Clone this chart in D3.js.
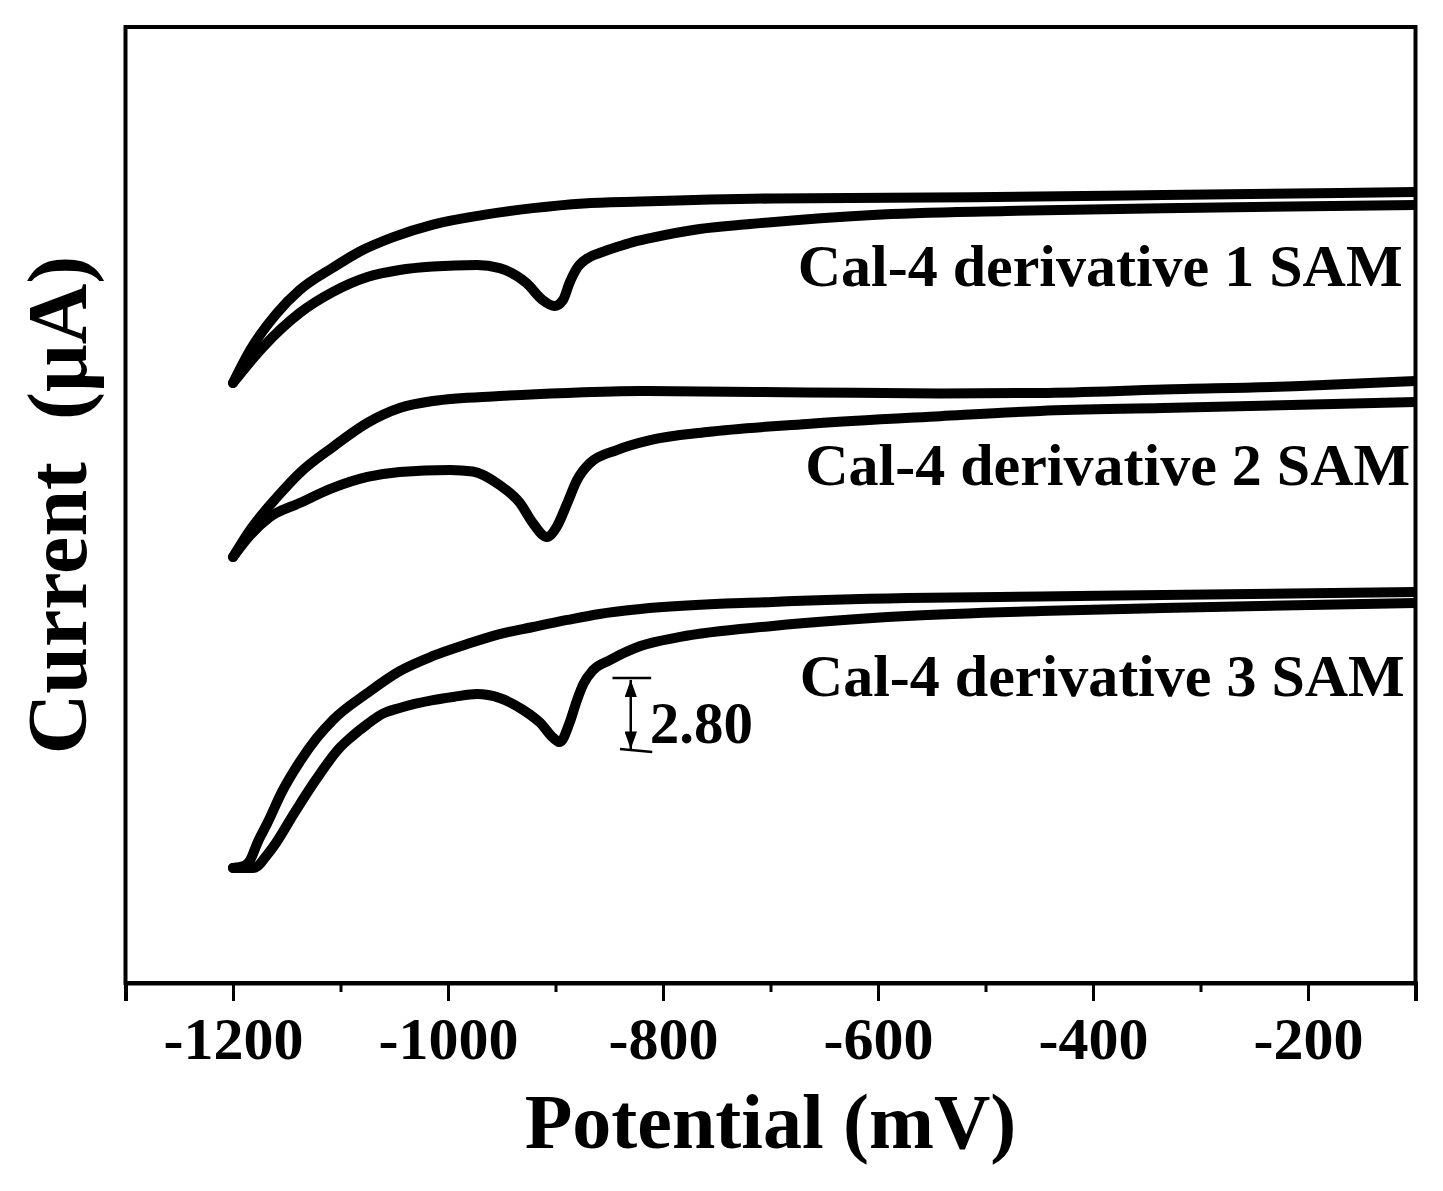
<!DOCTYPE html>
<html>
<head>
<meta charset="utf-8">
<script src="https://cdn.jsdelivr.net/npm/d3@7"></script>
<style>
  html, body { margin: 0; padding: 0; background: #fff; }
  svg { display: block; }
</style>
</head>
<body>
<svg id="chart" width="1443" height="1191"></svg>
<script>
// ---------- data (potential in mV, current in µA, arbitrary offset) ----------
const xMajorTicks = [-1200, -1000, -800, -600, -400, -200];
const xMinorTicks = [-1300, -1100, -900, -700, -500, -300, -100];

const cv1Upper = [[-1200,22.99],[-1184,24.25],[-1159,25.67],[-1138,26.55],[-1107,27.41],[-1082,28.03],[-1051,28.58],[-1014,29.06],[-967,29.43],[-921,29.69],[-874,29.87],[-821,29.94],[-698,30.06],[-512,30.11],[-335,30.19],[-100,30.31]];
const cv1Lower = [[-1200,22.99],[-1172,24.37],[-1138,25.67],[-1107,26.48],[-1075,27.05],[-1045,27.32],[-1014,27.45],[-973,27.51],[-952,27.39],[-927,26.82],[-912,26.17],[-901,25.94],[-893,26.17],[-887,26.82],[-880,27.39],[-868,27.82],[-859,27.97],[-843,28.20],[-828,28.39],[-812,28.54],[-766,28.89],[-719,29.08],[-605,29.43],[-480,29.58],[-335,29.69],[-100,29.81]];

const cv2Upper = [[-1200,16.32],[-1184,17.36],[-1159,18.62],[-1138,19.54],[-1107,20.54],[-1075,21.46],[-1045,22.03],[-1014,22.30],[-952,22.49],[-889,22.61],[-821,22.68],[-666,22.63],[-542,22.59],[-449,22.61],[-335,22.74],[-207,22.87],[-100,23.07]];
const cv2Lower = [[-1200,16.32],[-1184,17.16],[-1166,17.85],[-1138,18.39],[-1107,18.97],[-1075,19.39],[-1045,19.58],[-998,19.66],[-977,19.60],[-952,19.08],[-933,18.39],[-921,17.62],[-908,17.09],[-899,17.47],[-889,18.39],[-880,19.27],[-868,19.92],[-843,20.42],[-812,20.80],[-759,21.11],[-666,21.42],[-542,21.72],[-449,21.92],[-335,22.03],[-100,22.26]];

const cv3Upper = [[-1200,4.41],[-1190,4.48],[-1184,4.71],[-1177,5.40],[-1168,6.13],[-1154,7.36],[-1138,8.47],[-1122,9.39],[-1107,10.08],[-1075,11.11],[-1045,11.95],[-1014,12.53],[-982,12.99],[-952,13.37],[-921,13.64],[-889,13.91],[-859,14.14],[-821,14.33],[-698,14.60],[-573,14.75],[-449,14.81],[-335,14.87],[-100,14.98]];
const cv3Lower = [[-1200,4.41],[-1181,4.41],[-1177,4.48],[-1169,4.87],[-1162,5.25],[-1143,6.51],[-1123,7.78],[-1101,9.00],[-1091,9.39],[-1075,9.92],[-1061,10.31],[-1045,10.54],[-1014,10.84],[-995,10.96],[-973,11.07],[-952,10.92],[-930,10.46],[-914,9.96],[-902,9.39],[-896,9.23],[-887,9.96],[-880,10.84],[-874,11.46],[-865,11.99],[-849,12.38],[-821,12.91],[-784,13.26],[-698,13.68],[-573,14.06],[-449,14.25],[-335,14.37],[-100,14.56]];

const seriesNames = ["Cal-4 derivative 1 SAM", "Cal-4 derivative 2 SAM", "Cal-4 derivative 3 SAM"];
const labelPositions = [[-112, 26.7], [-105, 19.1], [-110, 11.0]]; // [mV, µA] of label end/baseline

// peak current annotation (µA)
const annotTop = 11.69;
const annotDelta = 2.80;
const annotX = -830;
const annotText = "2.80";

// ---------- layout ----------
const margin = { left: 125.5, right: 1415.5, top: 27, bottom: 983 };
const FONT = "'Liberation Serif', 'Times New Roman', Times, serif";

const svg = d3.select("#chart");
const x = d3.scaleLinear().domain([-1300, -100]).range([margin.left, margin.right]);
const y = d3.scaleLinear().domain([0, 36.63]).range([margin.bottom, margin.top]);

const line = d3.line()
  .x(d => x(d[0])).y(d => y(d[1]))
  .curve(d3.curveMonotoneX);

const defs = svg.append("defs");
defs.append("clipPath").attr("id", "plotclip")
  .append("rect")
  .attr("x", margin.left).attr("y", margin.top)
  .attr("width", margin.right - margin.left)
  .attr("height", margin.bottom - margin.top);

const curves = [cv1Upper, cv1Lower, cv2Upper, cv2Lower, cv3Upper, cv3Lower];
const plot = svg.append("g").attr("clip-path", "url(#plotclip)");
plot.selectAll("path.cv").data(curves).enter().append("path")
  .attr("class", "cv")
  .attr("d", line)
  .attr("fill", "none")
  .attr("stroke", "#000")
  .attr("stroke-width", 10)
  .attr("stroke-linecap", "round")
  .attr("stroke-linejoin", "round");

// frame
svg.append("rect")
  .attr("x", margin.left).attr("y", margin.top)
  .attr("width", margin.right - margin.left)
  .attr("height", margin.bottom - margin.top)
  .attr("fill", "none").attr("stroke", "#000").attr("stroke-width", 4);

// x axis: minor ticks
const gMinor = svg.append("g").attr("transform", `translate(0,${margin.bottom})`)
  .call(d3.axisBottom(x).tickValues(xMinorTicks).tickSize(9).tickFormat(""));
gMinor.select(".domain").remove();
gMinor.selectAll("line").attr("stroke-width", 3);

// x axis: major ticks
const gMajor = svg.append("g").attr("transform", `translate(0,${margin.bottom})`)
  .call(d3.axisBottom(x).tickValues(xMajorTicks).tickSize(18).tickFormat(d3.format("d")));
gMajor.select(".domain").attr("stroke-width", 4);
gMajor.selectAll("line").attr("stroke-width", 3);
gMajor.selectAll("text")
  .attr("y", 76).attr("dy", null)
  .attr("font-family", FONT).attr("font-weight", "bold")
  .attr("font-size", 60).attr("fill", "#000")
  .text(d => String(d).replace("\u2212", "-"));

// axis titles
svg.append("text")
  .attr("x", (margin.left + margin.right) / 2).attr("y", 1148)
  .attr("text-anchor", "middle")
  .attr("font-family", FONT).attr("font-weight", "bold").attr("font-size", 78)
  .text("Potential (mV)");

svg.append("text")
  .attr("transform", `translate(86,${(margin.top + margin.bottom) / 2}) rotate(-90)`)
  .attr("text-anchor", "middle")
  .attr("font-family", FONT).attr("font-weight", "bold").attr("font-size", 84)
  .attr("xml:space", "preserve")
  .text("Current  (\u03BCA)");

// series labels
svg.selectAll("text.lbl").data(seriesNames).enter().append("text")
  .attr("class", "lbl")
  .attr("x", (d, i) => x(labelPositions[i][0]))
  .attr("y", (d, i) => y(labelPositions[i][1]))
  .attr("text-anchor", "end")
  .attr("font-family", FONT).attr("font-weight", "bold").attr("font-size", 60)
  .text(d => d);

// annotation
defs.append("marker").attr("id", "ah")
  .attr("viewBox", "0 0 14 10").attr("refX", 14).attr("refY", 5)
  .attr("markerWidth", 7).attr("markerHeight", 5).attr("orient", "auto-start-reverse")
  .attr("markerUnits", "strokeWidth")
  .append("path").attr("d", "M0,0 L14,5 L0,10 Z").attr("fill", "#000");

const ann = svg.append("g");
ann.append("line")
  .attr("x1", x(-847)).attr("x2", x(-811))
  .attr("y1", y(annotTop)).attr("y2", y(annotTop))
  .attr("stroke", "#000").attr("stroke-width", 2.5);
ann.append("line")
  .attr("x1", x(-840)).attr("x2", x(-810))
  .attr("y1", y(annotTop - annotDelta) - 2).attr("y2", y(annotTop - annotDelta) + 1)
  .attr("stroke", "#000").attr("stroke-width", 2.5);
ann.append("line")
  .attr("x1", x(annotX)).attr("x2", x(annotX))
  .attr("y1", y(annotTop) + 2).attr("y2", y(annotTop - annotDelta) - 2)
  .attr("stroke", "#000").attr("stroke-width", 2.5)
  .attr("marker-start", "url(#ah)").attr("marker-end", "url(#ah)");
ann.append("text")
  .attr("x", x(annotX) + 19).attr("y", y(annotTop - annotDelta) - 8)
  .attr("font-family", FONT).attr("font-weight", "bold").attr("font-size", 59)
  .text(annotText);
</script>
</body>
</html>
